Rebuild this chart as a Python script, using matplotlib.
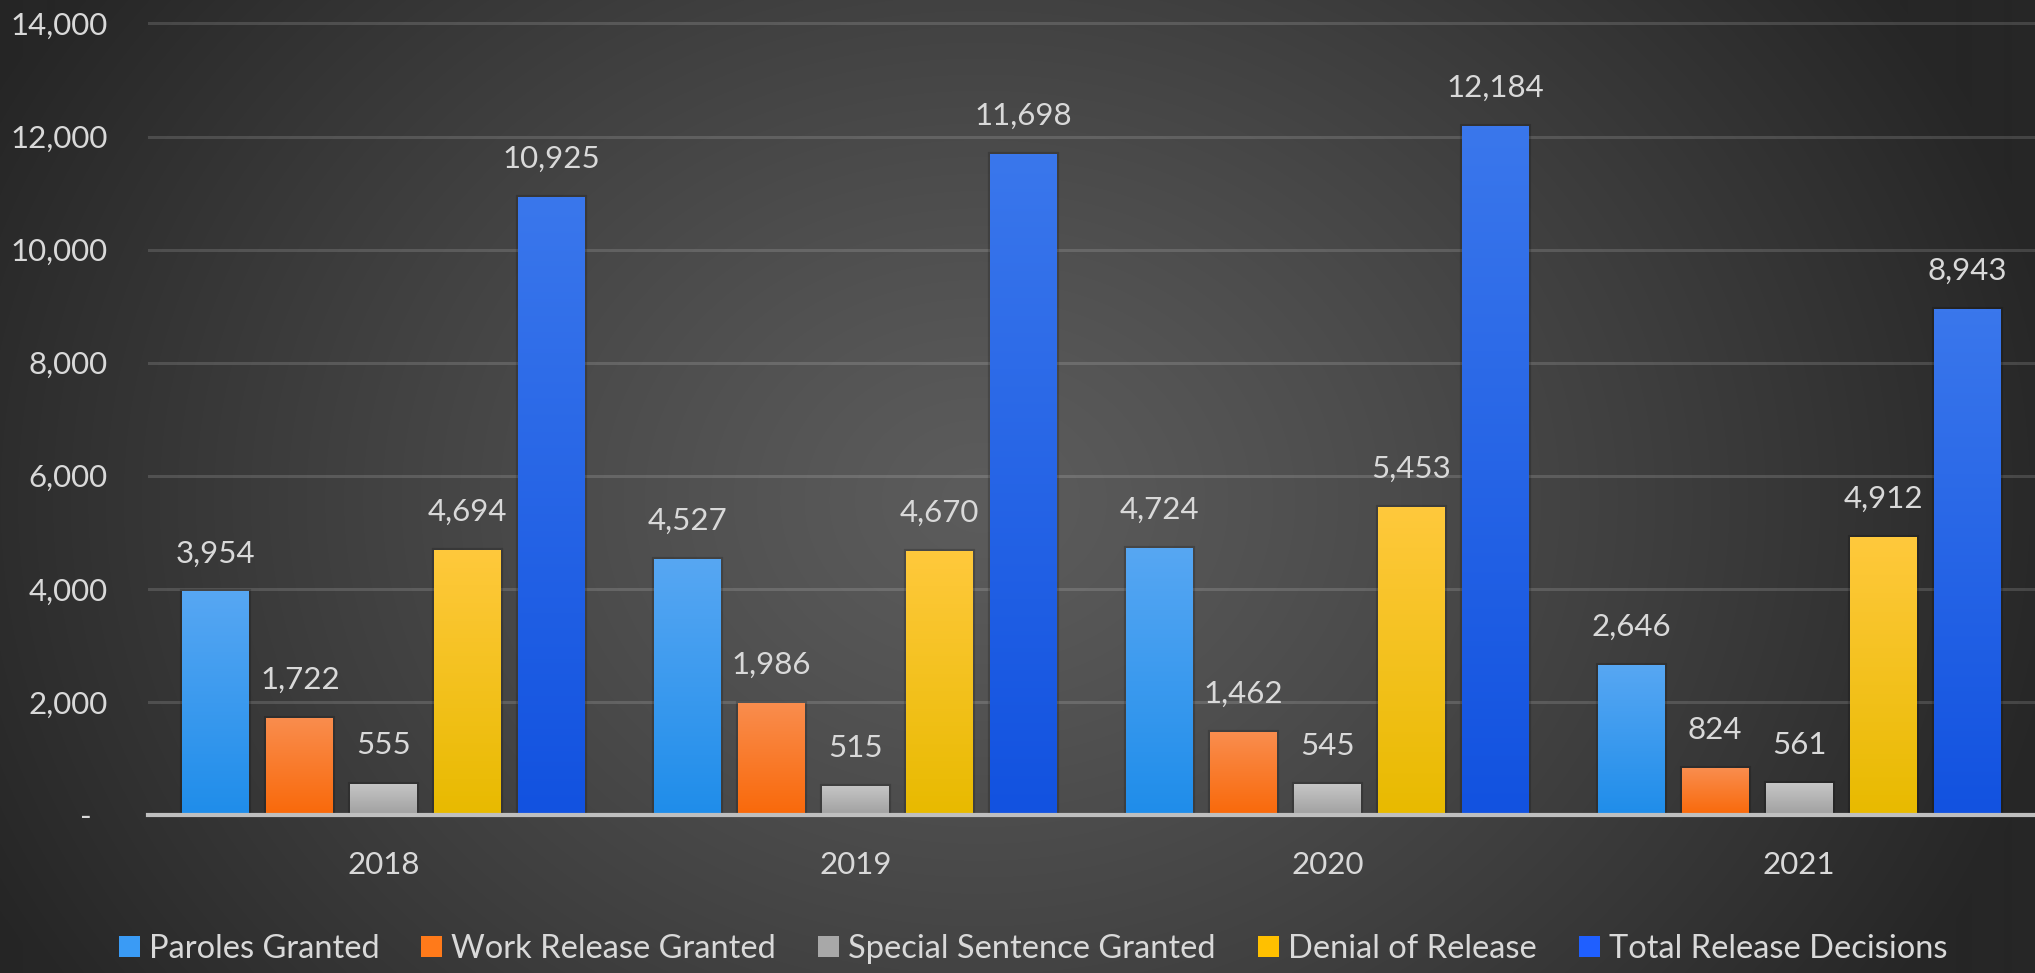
import numpy as np
import matplotlib
matplotlib.use("Agg")
import matplotlib.pyplot as plt
from matplotlib.colors import to_rgb
from matplotlib.patches import Patch

plt.rcParams['font.family'] = ['Lato', 'DejaVu Sans']

years = ["2018", "2019", "2020", "2021"]
series = ["Paroles Granted", "Work Release Granted", "Special Sentence Granted",
          "Denial of Release", "Total Release Decisions"]
paroles = [3954, 4527, 4724, 2646]
work_release = [1722, 1986, 1462, 824]
special_sentence = [555, 515, 545, 561]
denial = [4694, 4670, 5453, 4912]
total = [10925, 11698, 12184, 8943]
values = [paroles, work_release, special_sentence, denial, total]

y_ticks = [0, 2000, 4000, 6000, 8000, 10000, 12000, 14000]
y_ticklabels = ["-  "] + [f"{v:,}" for v in y_ticks[1:]]

# gradient colours (top, bottom) and legend swatches
grad = [("#57a7f3", "#1f8dea"), ("#fa8d4e", "#f9690a"), ("#c6c6c6", "#a0a0a0"),
        ("#ffc93c", "#e8ba00"), ("#3a77ec", "#1252e0")]
swatch = ["#3a9bf5", "#ff7a1a", "#a8a8a8", "#ffc000", "#1f5fff"]
txt = "#d9d9d9"

W, H = 2035, 973
fig = plt.figure(figsize=(W / 100, H / 100), dpi=100)

# radial background
bg = fig.add_axes([0, 0, 1, 1], zorder=-10)
yy, xx = np.mgrid[0:H, 0:W]
r = np.sqrt(((xx - 980) / 1100.0) ** 2 + ((yy - 500) / 900.0) ** 2)
r = np.clip(r, 0, 1) ** 1.2
c0, c1 = 0x5c / 255, 0x26 / 255
img = c0 + (c1 - c0) * r
bg.imshow(np.dstack([img, img, img]), aspect='auto', extent=[0, 1, 0, 1])
bg.set_axis_off()

ax = fig.add_axes([148 / W, 158 / H, 1 - 148 / W, 800 / H])
ax.set_facecolor('none')

n = len(series)
pitch = 0.178
bw = 0.142
x = np.arange(len(years))
for i, (vals, (ctop, cbot)) in enumerate(zip(values, grad)):
    bars = ax.bar(x + (i - (n - 1) / 2) * pitch, vals, bw, color=ctop,
                  edgecolor=(0, 0, 0, 0.18), linewidth=3, zorder=3)
    top = np.array(to_rgb(ctop))
    bot = np.array(to_rgb(cbot))
    g = np.linspace(0, 1, 100)[:, None]
    gimg = (top[None, :] * (1 - g) + bot[None, :] * g)[:, None, :]
    for b in bars:
        bx, by = b.get_x(), b.get_y()
        w, h = b.get_width(), b.get_height()
        im = ax.imshow(gimg, extent=[bx, bx + w, by, by + h], aspect='auto',
                       zorder=4, interpolation='bilinear')
        im.set_clip_path(b)
        ax.annotate(f"{int(h):,}", (bx + w / 2, h), xytext=(0, 21),
                    textcoords='offset points', ha='center', va='baseline',
                    fontsize=22.5, color=txt, zorder=5)

ax.set_xlim(-0.5, 3.5)
ax.set_ylim(0, 14150)
ax.set_xticks(x)
ax.set_xticklabels(years)
ax.set_yticks(y_ticks)
ax.set_yticklabels(y_ticklabels)
ax.tick_params(axis='x', length=0, pad=26, labelsize=22.5, labelcolor=txt)
ax.tick_params(axis='y', length=0, pad=29, labelsize=22.5, labelcolor=txt)
ax.yaxis.grid(True, color='white', alpha=0.14, linewidth=2.2, zorder=1)
ax.set_axisbelow(True)
for s in ['top', 'right', 'left']:
    ax.spines[s].set_visible(False)
ax.spines['bottom'].set_color('#bfbfbf')
ax.spines['bottom'].set_linewidth(3)
ax.spines['bottom'].set_zorder(6)

handles = [Patch(facecolor=c, edgecolor='none') for c in swatch]
fig.legend(handles, series, loc='center', bbox_to_anchor=(1033 / W, 1 - 949 / H),
           ncol=5, frameon=False, fontsize=23.5, handlelength=0.64,
           handleheight=0.64, handletextpad=0.28, columnspacing=1.29,
           labelcolor=txt)

fig.savefig("out.png", dpi=100)
